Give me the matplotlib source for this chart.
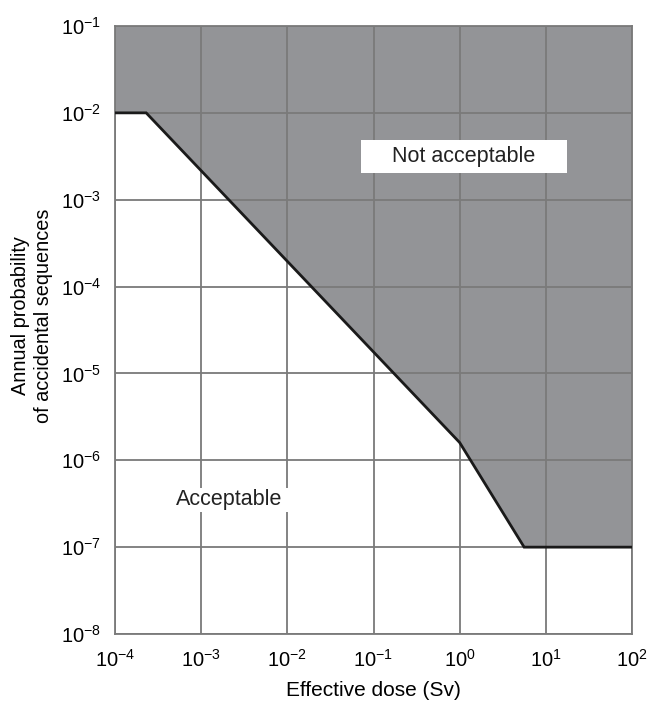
import matplotlib
matplotlib.use("Agg")
import matplotlib.pyplot as plt
from matplotlib.patches import Rectangle

plt.rcParams['font.family'] = ['Liberation Sans', 'DejaVu Sans']
plt.rcParams['mathtext.fontset'] = 'custom'
plt.rcParams['mathtext.rm'] = 'Liberation Sans'
plt.rcParams['mathtext.it'] = 'Liberation Sans:italic'
plt.rcParams['mathtext.bf'] = 'Liberation Sans:bold'

# Boundary between acceptable / not acceptable (dose in Sv, annual probability)
boundary_dose = [1e-4, 2.3e-4, 1.0, 5.6, 1e2]
boundary_prob = [1e-2, 1e-2, 1.6e-6, 1e-7, 1e-7]

x_exps = [-4, -3, -2, -1, 0, 1, 2]
y_exps = [-8, -7, -6, -5, -4, -3, -2, -1]

fig = plt.figure(figsize=(6.49, 7.01), dpi=100)
ax = fig.add_axes([115/649, 1-634/701, 517/649, 608/701])
ax.set_xscale('log')
ax.set_yscale('log')
ax.set_xlim(1e-4, 1e2)
ax.set_ylim(1e-8, 1e-1)

ax.fill_between(boundary_dose, boundary_prob, 1e-1, color='#939497', linewidth=0, zorder=1)
ax.plot(boundary_dose, boundary_prob, color='#1a1a1a', linewidth=2.0, zorder=3, solid_joinstyle='miter')

ax.set_xticks([10.0**e for e in x_exps])
ax.set_xticklabels([r'$10^{%d}$' % e for e in x_exps])
ax.set_yticks([10.0**e for e in y_exps])
ax.set_yticklabels([r'$10^{%d}$' % e for e in y_exps])
ax.minorticks_off()
ax.tick_params(axis='both', which='both', length=0, labelsize=14.5)
ax.tick_params(axis='x', pad=11)
ax.tick_params(axis='y', pad=10)
ax.grid(True, which='major', color='#7a7a7a', linewidth=1.3, zorder=2)
ax.set_axisbelow(False)
for s in ax.spines.values():
    s.set_color('#7a7a7a')
    s.set_linewidth(1.3)

ax.add_patch(Rectangle((0.476, 0.758), 0.398, 0.054, transform=ax.transAxes,
                       facecolor='white', edgecolor='none', zorder=4))
ax.text(0.675, 0.785, 'Not acceptable', transform=ax.transAxes, ha='center', va='center',
        fontsize=15.5, color='#222222', zorder=5)
ax.add_patch(Rectangle((0.115, 0.200), 0.23, 0.040, transform=ax.transAxes,
                       facecolor='white', edgecolor='none', zorder=4))
ax.text(0.221, 0.221, 'Acceptable', transform=ax.transAxes, ha='center', va='center',
        fontsize=15.5, color='#222222', zorder=5)

ax.set_xlabel('Effective dose (Sv)', fontsize=15, va='baseline')
ax.xaxis.set_label_coords(0.5, -(696 - 634) / 608)
ax.set_ylabel('Annual probability\nof accidental sequences', fontsize=14.3,
              linespacing=1.3, va='center', ha='center')
ax.yaxis.set_label_coords((32 - 115) / 517, 1 - (316 - 26) / 608)

fig.savefig('out.png', dpi=100)
